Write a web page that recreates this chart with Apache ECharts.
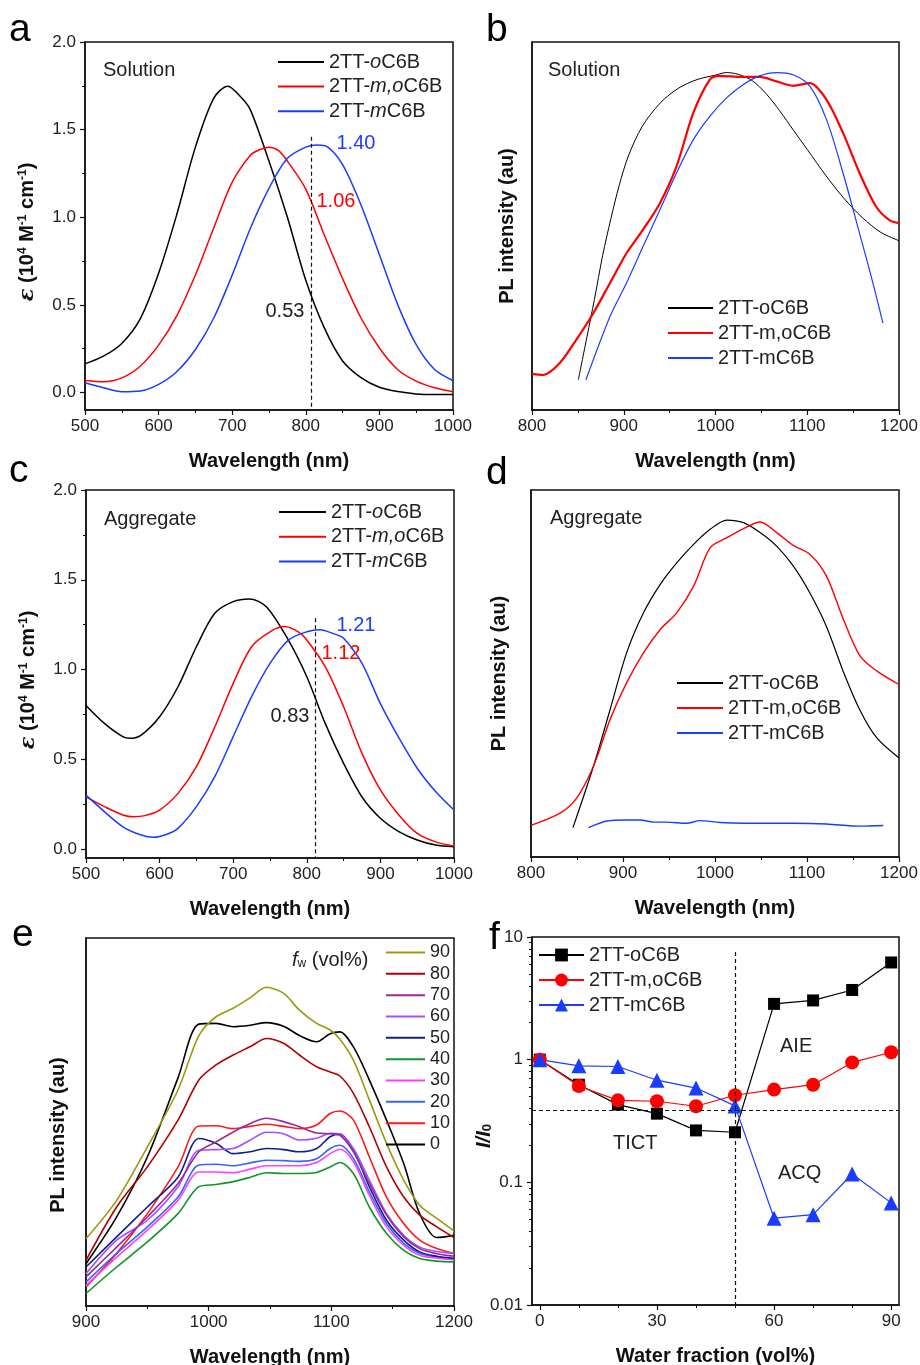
<!DOCTYPE html>
<html>
<head>
<meta charset="utf-8">
<script src="https://cdn.jsdelivr.net/npm/echarts@6.0.0/dist/echarts.min.js"></script>
<style>html,body{margin:0;padding:0;background:#fff}#chart{width:920px;height:1365px}</style>
</head>
<body>
<div id="chart"></div>
<script>
// ---------------- DATA ----------------
// Panels a & c : absorption, [wavelength nm, epsilon 10^4 M-1 cm-1]
const aO  = [[500,0.163],[525,0.207],[550,0.28],[575,0.42],[600,0.68],[625,1.02],[650,1.40],[675,1.68],[694,1.748],[713,1.68],[725,1.61],[750,1.32],[775,1.00],[800,0.64],[825,0.37],[850,0.18],[875,0.085],[900,0.03],[925,0.005],[950,-0.008],[975,-0.011],[1000,-0.011]];
const aMO = [[500,0.068],[525,0.061],[550,0.083],[575,0.15],[600,0.27],[625,0.44],[650,0.67],[675,0.94],[700,1.20],[725,1.355],[737,1.385],[750,1.40],[763,1.38],[775,1.32],[800,1.16],[825,0.90],[850,0.65],[875,0.425],[900,0.254],[925,0.13],[950,0.065],[975,0.027],[1000,0.004]];
const aM  = [[500,0.055],[525,0.027],[550,0.004],[575,0.008],[600,0.046],[625,0.12],[650,0.245],[675,0.425],[700,0.67],[725,0.94],[750,1.165],[775,1.336],[800,1.40],[815,1.412],[830,1.40],[850,1.30],[875,1.07],[900,0.786],[925,0.50],[950,0.273],[975,0.131],[1000,0.068]];
const aMark = {x: 808, top: 1.46, bottom: -0.1};
const cO  = [[500,0.80],[525,0.70],[550,0.626],[560,0.617],[575,0.635],[600,0.737],[625,0.904],[650,1.127],[675,1.313],[700,1.378],[722,1.393],[745,1.35],[775,1.164],[800,0.96],[825,0.70],[850,0.477],[875,0.29],[900,0.171],[925,0.097],[950,0.05],[975,0.022],[1000,0.013]];
const cMO = [[500,0.29],[525,0.236],[550,0.19],[565,0.18],[580,0.186],[600,0.217],[625,0.31],[650,0.459],[675,0.68],[700,0.923],[725,1.127],[750,1.21],[770,1.239],[790,1.205],[800,1.164],[825,1.016],[850,0.793],[875,0.533],[900,0.329],[925,0.19],[950,0.087],[975,0.04],[1000,0.017]];
const cM  = [[500,0.30],[525,0.208],[550,0.124],[575,0.078],[592,0.065],[610,0.082],[625,0.115],[650,0.236],[675,0.403],[700,0.626],[725,0.849],[750,1.034],[775,1.164],[800,1.21],[818,1.222],[836,1.20],[850,1.174],[875,1.034],[900,0.81],[925,0.62],[950,0.45],[975,0.32],[1000,0.217]];
const cMark = {x: 811, top: 1.285, bottom: -0.05};

// Panel b : PL in solution, [wavelength, intensity au]
const bO = [[850.5,8.2],[860,20],[868,30],[877,42],[886,52],[895,61],[905,69],[920,77],[940,83.5],[960,87.5],[980,89.8],[1000,91],[1012,91.7],[1025,91.2],[1040,89.5],[1055,86],[1070,81.3],[1085,76],[1100,70.8],[1120,63.8],[1140,57.5],[1160,52.3],[1180,48.3],[1200,46]];
const bMO = [[800,9.8],[812,9.5],[830,12.7],[848,19],[866.8,26.3],[885,34.5],[903,42.6],[921,49],[939.4,56.2],[957.5,66.2],[975.7,80.7],[993.8,89.8],[1003,90.8],[1030,90.5],[1048,90.5],[1066.5,89.3],[1084.6,88.1],[1102.8,88.8],[1121,84.3],[1139,75.3],[1157,64.4],[1175,55.3],[1190,51.5],[1200,50.8]];
const bM = [[858.8,8.2],[885,25.4],[903,34.5],[921,44.4],[939.4,54.4],[957.5,64.4],[975.7,73.4],[993.8,79.8],[1012,84.8],[1030,88.4],[1048,90.8],[1066.5,91.7],[1084.6,91.1],[1102.8,88],[1121,78.9],[1139,64.4],[1157,48],[1171.6,34.5],[1182.5,23.6]];

// Panel d : PL of aggregates
const dO = [[845.6,8],[868,24.8],[886,40.2],[904,55.7],[922.4,66.6],[940.5,74.3],[958.6,80.2],[976.7,85.2],[994.8,89.3],[1013,91.8],[1031,91.1],[1049,88.4],[1067,84.7],[1085,79.3],[1103,72],[1121,62.9],[1139.5,50.5],[1157.6,40],[1175.7,32.5],[1200,27]];
const dMO = [[800,8.6],[832,12],[850,16.2],[868,24.8],[886,37.5],[904,47.5],[922.4,55.7],[940.5,62],[958.6,66.6],[976.7,73.8],[994.8,84.3],[1013,87],[1031,89.5],[1049,91.3],[1067,88.4],[1085,84.9],[1103,82.5],[1121,76.6],[1139.5,64.8],[1157.6,54.8],[1175.7,50.7],[1200,47]];
const dM = [[862.6,8],[882.5,9.8],[904,10.1],[918.5,10.1],[933,9.5],[947.5,9.5],[969,9.2],[983.7,9.9],[1005.5,9.4],[1031,9.2],[1085,9.2],[1121,9],[1157.6,8.4],[1183,8.6]];

// Panel e : PL vs water fraction (fw, vol%)
const waveE = [900,925,950,975,992,1006,1020,1034,1047,1061,1074,1088,1099,1107,1118,1131,1145,1159,1172,1186,1200];
const eFractions = ['90','80','70','60','50','40','30','20','10','0'];
const e90 = [18.3,28.7,43.2,58.7,73.5,78.6,80.9,83.8,86.6,85,80.4,76.8,75,72.5,66.8,56,44.2,34.2,27.4,23.8,20.4];
const e80 = [12.4,26.9,37.8,50.5,61.4,65.5,68.2,70.5,72.7,71.4,68.2,65,63.6,62.5,57.8,48.7,37.8,29.6,24.7,21.5,18.6];
const e70 = [7.9,16,24.2,33.3,41.9,44.6,47.3,49.6,51,50.1,48.7,47,46.8,46.4,41.9,33.3,24.7,18.8,15.6,14.2,13.5];
const e60 = [8.8,17.9,23.3,32.4,42.3,42.5,42.8,45.1,47.2,46.8,45.1,45.6,46.9,46.7,42.8,34.2,25.1,19.2,16,14.8,14.3];
const e50 = [10.6,18.8,26.9,35,45.5,44.2,41.4,41.9,42.8,42.5,41.9,42.8,46,46.7,42.3,32.4,23.3,17.9,14.7,13.5,12.9];
const e40 = [3.4,10.6,17.4,25.1,32.4,33,33.8,35,36.2,36,36,36.3,37.8,39,36,26.9,19.7,15.1,12.9,12.2,12];
const e30 = [5.6,13.3,20.6,28.7,36.4,36.4,36.2,37.2,38.1,38.1,38.1,39,41.4,42.6,39.2,30.1,21.5,16.5,13.8,13,12.6];
const e20 = [6.5,14.3,21.5,29.6,38.3,38.5,38.1,38.9,39.6,39.5,39.3,40,42.8,43.7,40.1,31,22.4,17,14.3,13.3,12.9];
const e10 = [5.2,14.3,25.1,37.8,48.9,49,48.2,48.8,49.4,48.8,48.2,49.2,52.3,53,50.5,40.5,29.6,22.4,17.9,15.6,14.3];
const e0  = [11.5,24.2,40.5,62,76.6,76.8,75.9,76.3,77,76,73.5,71.8,74,74.5,70.4,61.4,50.5,38.7,25.1,18.6,19.2];

// Panel f : I/I0 vs water fraction
const fWater = [0,10,20,30,40,50,60,70,80,90];
const fO  = [1.0,0.625,0.43,0.363,0.265,0.256,2.85,3.04,3.70,6.2];
const fMO = [1.0,0.61,0.466,0.458,0.417,0.513,0.57,0.625,0.95,1.15];
const fM  = [1.0,0.89,0.88,0.68,0.587,0.42,0.051,0.0545,0.117,0.068];
const fTICT = 0.39;
const fSplit = 50;

// tick positions
const epsTicks = [0,0.5,1,1.5,2];
const epsMinor = [0.25,0.75,1.25,1.75];
const fXTicks = [0,30,60,90];
const fXMinor = [10,20,40,50,70,80];
const fYMinorDecades = [0.01,0.1,1];
const fYMinorMult = [2,3,4,5,6,7,8,9];

// ---------------- STYLE ----------------
const FONT = '"Liberation Sans", Arial, Helvetica, sans-serif';
const INK = '#111';
const TXT = '#222';
const C_BLACK = '#000000', C_RED = '#ff0000', C_BLUE = '#1a3cff';
const eColors = {'90':'#9a9a10','80':'#b00000','70':'#9a2a9a','60':'#a050ff','50':'#10208a','40':'#10962a','30':'#ff40ff','20':'#3366ff','10':'#ff1a1a','0':'#000000'};
const eData = {'90':e90,'80':e80,'70':e70,'60':e60,'50':e50,'40':e40,'30':e30,'20':e20,'10':e10,'0':e0};
const SMOOTH = 0.3;

const grids = [
  {left:85, top:42, width:368, height:368},
  {left:532, top:42, width:367, height:368},
  {left:86, top:490, width:368, height:368},
  {left:531, top:490, width:368, height:367},
  {left:86, top:938, width:368, height:368},
  {left:532, top:937, width:367, height:368}
].map(g => Object.assign({show:true, borderColor:INK, borderWidth:1.5, backgroundColor:'transparent', outerBoundsMode:'none', containLabel:false}, g));

const tickStyle = {color:INK, width:1.2};
const labelStyle = {show:true, color:TXT, fontSize:17, fontFamily:FONT, margin:8, formatter:v => String(v)};
const nameStyle = {fontSize:20, fontWeight:'bold', color:INK, fontFamily:FONT};

function xAxisMain(gi, min, max, extra) {
  return Object.assign({
    type:'value', gridIndex:gi, min:min, max:max, position:'bottom',
    axisLine:{show:true, onZero:false, lineStyle:{color:INK, width:1.5}},
    axisTick:{show:true, inside:false, length:5, lineStyle:tickStyle},
    axisLabel:labelStyle,
    splitLine:{show:false},
    name:'Wavelength (nm)', nameLocation:'middle', nameGap:41, nameMoveOverlap:false,
    nameTextStyle:nameStyle
  }, extra || {});
}
const minorTick = {show:true, splitNumber:2, length:3, lineStyle:{color:INK, width:1}};
function overlayAxis(gi, min, max, vals, position) {
  return {
    type:'value', gridIndex:gi, min:min, max:max, position:position,
    axisLine:{show:false, onZero:false}, axisLabel:{show:false}, splitLine:{show:false},
    axisTick:{show:true, inside:false, length:3, customValues:vals, lineStyle:{color:INK, width:1}}
  };
}
function plainY(gi, gap, extra) {
  return Object.assign({
    type:'value', gridIndex:gi, min:0, max:100, position:'left',
    axisLine:{show:true, onZero:false, lineStyle:{color:INK, width:1.5}},
    axisTick:{show:false}, axisLabel:{show:false}, splitLine:{show:false},
    name:'PL intensity (au)', nameLocation:'middle', nameRotate:90, nameGap:gap, nameMoveOverlap:false,
    nameTextStyle:nameStyle
  }, extra || {});
}
const epsName = '{e|ε} (10{s|4} M{s|-1} cm{s|-1})';
const epsRich = {
  e:{fontStyle:'italic', fontWeight:'bold', fontSize:21, fontFamily:'"DejaVu Serif", serif', color:INK},
  s:{fontSize:12, fontWeight:'bold', fontFamily:FONT, color:INK, verticalAlign:'top'}
};
function epsY(gi, min, pad) {
  return {
    type:'value', gridIndex:gi, min:min, max:2, position:'left',
    axisLine:{show:true, onZero:false, lineStyle:{color:INK, width:1.5}},
    axisTick:{show:true, inside:false, length:5, customValues:epsTicks, lineStyle:tickStyle},
    axisLabel:Object.assign({}, labelStyle, {customValues:epsTicks, margin:9, formatter:v => Number(v).toFixed(1)}),
    splitLine:{show:false},
    name:epsName, nameLocation:'middle', nameRotate:90, nameGap:47, nameMoveOverlap:false,
    nameTextStyle:Object.assign({}, nameStyle, {rich:epsRich, padding:pad})
  };
}

const fYMinor = [];
fYMinorDecades.forEach(d => fYMinorMult.forEach(m => fYMinor.push(Math.log10(d * m))));

const xAxes = [
  xAxisMain(0, 500, 1000, {interval:100, minorTick:minorTick}),
  xAxisMain(1, 800, 1200, {interval:100, minorTick:minorTick}),
  xAxisMain(2, 500, 1000, {interval:100, minorTick:minorTick}),
  xAxisMain(3, 800, 1200, {interval:100, minorTick:minorTick}),
  xAxisMain(4, 900, 1200, {interval:100, minorTick:minorTick}),
  xAxisMain(5, -2, 92, {
    name:'Water fraction (vol%)',
    axisTick:{show:true, inside:false, length:5, customValues:fXTicks, lineStyle:tickStyle},
    axisLabel:Object.assign({}, labelStyle, {customValues:fXTicks})
  }),
  overlayAxis(5, -2, 92, fXMinor, 'bottom')
];
const yAxes = [
  epsY(0, -0.1, [0, 12, 0, 0]),
  plainY(1, 15),
  epsY(2, -0.05, [0, 12, 0, 0]),
  plainY(3, 22),
  plainY(4, 18, {nameTextStyle:Object.assign({}, nameStyle, {padding:[0, 26, 0, 0]})}),
  {
    type:'log', logBase:10, gridIndex:5, min:0.01, max:10, position:'left',
    axisLine:{show:true, onZero:false, lineStyle:{color:INK, width:1.5}},
    axisTick:{show:true, inside:false, length:5, lineStyle:tickStyle},
    axisLabel:Object.assign({}, labelStyle, {margin:9, formatter:v => String(+Number(v).toPrecision(3))}),
    splitLine:{show:false},
    name:'{i|I/I}{sub|0}', nameLocation:'middle', nameRotate:90, nameGap:38, nameMoveOverlap:false,
    nameTextStyle:Object.assign({}, nameStyle, {padding:[0, 30, 0, 0], rich:{
      i:{fontStyle:'italic', fontWeight:'bold', fontSize:20, fontFamily:FONT, color:INK},
      sub:{fontWeight:'bold', fontSize:13, fontFamily:FONT, color:INK, verticalAlign:'bottom'}
    }})
  },
  overlayAxis(0, -0.1, 2, epsMinor, 'left'),
  overlayAxis(2, -0.05, 2, epsMinor, 'left'),
  overlayAxis(5, -2, 1, fYMinor, 'left')
];

const dashStyle = {type:[4,3], color:INK, width:1.2};
function vMark(m) {
  return {silent:true, symbol:'none', animation:false, label:{show:false}, lineStyle:dashStyle,
    data:[[{coord:[m.x, m.top]}, {coord:[m.x, m.bottom]}]]};
}
function curve(name, gi, data, color, width, extra) {
  return Object.assign({
    type:'line', name:name, xAxisIndex:gi, yAxisIndex:gi, data:data,
    smooth:SMOOTH, symbol:'none', showSymbol:false, lineStyle:{color:color, width:width}, itemStyle:{color:color},
    emphasis:{disabled:true}, z:3
  }, extra || {});
}
const zipE = arr => waveE.map((w, i) => [w, arr[i]]);
const zipF = arr => fWater.map((w, i) => [w, arr[i]]);

const series = [
  curve('a:o', 0, aO, C_BLACK, 1.5, {markLine:vMark(aMark)}),
  curve('a:mo', 0, aMO, C_RED, 1.5),
  curve('a:m', 0, aM, C_BLUE, 1.5),
  curve('b:o', 1, bO, C_BLACK, 1),
  curve('b:mo', 1, bMO, C_RED, 2.2),
  curve('b:m', 1, bM, C_BLUE, 1.2),
  curve('c:o', 2, cO, C_BLACK, 1.5, {markLine:vMark(cMark)}),
  curve('c:mo', 2, cMO, C_RED, 1.5),
  curve('c:m', 2, cM, C_BLUE, 1.5),
  curve('d:o', 3, dO, C_BLACK, 1.2),
  curve('d:mo', 3, dMO, C_RED, 1.4),
  curve('d:m', 3, dM, C_BLUE, 1.4)
];
eFractions.slice().reverse().forEach(f => series.push(curve('e:' + f, 4, zipE(eData[f]), eColors[f], 1.6)));
function fSeries(name, data, color, symbol, size, extra) {
  return Object.assign({
    type:'line', name:name, xAxisIndex:5, yAxisIndex:5, data:zipF(data),
    symbol:symbol, symbolSize:size, showSymbol:true,
    lineStyle:{color:color, width:1.2}, itemStyle:{color:color, borderWidth:0},
    emphasis:{disabled:true}, z:4
  }, extra || {});
}
series.push(fSeries('f:o', fO, C_BLACK, 'rect', 12, {markLine:{silent:true, symbol:'none', label:{show:false}, lineStyle:dashStyle,
  data:[
    [{coord:[-2, fTICT]}, {coord:[92, fTICT]}],
    [{coord:[fSplit, 7.55]}, {coord:[fSplit, 0.01]}]
  ]}}));
series.push(fSeries('f:mo', fMO, C_RED, 'circle', 14));
series.push(fSeries('f:m', fM, C_BLUE, 'triangle', 15));

const DISPLAY = {
  'a:o':'2TT-{i|o}C6B', 'a:mo':'2TT-{i|m,o}C6B', 'a:m':'2TT-{i|m}C6B',
  'c:o':'2TT-{i|o}C6B', 'c:mo':'2TT-{i|m,o}C6B', 'c:m':'2TT-{i|m}C6B',
  'b:o':'2TT-oC6B', 'b:mo':'2TT-m,oC6B', 'b:m':'2TT-mC6B',
  'd:o':'2TT-oC6B', 'd:mo':'2TT-m,oC6B', 'd:m':'2TT-mC6B',
  'f:o':'2TT-oC6B', 'f:mo':'2TT-m,oC6B', 'f:m':'2TT-mC6B'
};
eFractions.forEach(f => DISPLAY['e:' + f] = f);

function legend(names, left, top, w, size, gap, ih, lineOnly) {
  const lg = {
    data:names, left:left, top:top, orient:'vertical', padding:0,
    itemWidth:w, itemHeight:ih || 14, itemGap:gap, selectedMode:false,
    formatter:n => DISPLAY[n],
    textStyle:{fontSize:size, lineHeight:size, color:TXT, fontFamily:FONT,
      rich:{i:{fontStyle:'italic', fontSize:size, fontFamily:FONT, color:TXT}}}
  };
  if (lineOnly) lg.itemStyle = {color:'rgba(0,0,0,0)', borderWidth:0, borderColor:'rgba(0,0,0,0)'};
  return lg;
}
const legends = [
  legend(['a:o','a:mo','a:m'], 277, 52, 46, 20, 4.6, 14, true),
  legend(['b:o','b:mo','b:m'], 667, 298, 45, 20, 5, 14, true),
  legend(['c:o','c:mo','c:m'], 278, 502, 47, 20, 4.7, 14, true),
  legend(['d:o','d:mo','d:m'], 676, 673, 46, 20, 5, 14, true),
  legend(eFractions.map(f => 'e:' + f), 385, 943.5, 39, 18, 3.33, 12, true),
  legend(['f:o','f:mo','f:m'], 538, 945, 45, 20, 5, 16, false)
];

function txt(t, x, y, size, color, extra) {
  return {type:'text', x:x, y:y, silent:true, z:10,
    style:Object.assign({text:t, fontSize:size, fontFamily:FONT, fill:color || TXT, align:'left', verticalAlign:'middle'}, extra || {})};
}
const graphics = [
  txt('a', 9, 30, 39, '#000'), txt('b', 486, 30, 39, '#000'),
  txt('c', 9, 471.5, 39, '#000'), txt('d', 486, 473, 39, '#000'),
  txt('e', 12, 935, 39, '#000'), txt('f', 489, 938, 39, '#000'),
  txt('Solution', 103, 70, 20), txt('Solution', 548, 70.5, 20),
  txt('Aggregate', 104, 519, 20), txt('Aggregate', 550, 518, 20),
  txt('1.40', 336.5, 143.5, 20, C_BLUE), txt('1.06', 316.5, 201.5, 20, C_RED), txt('0.53', 265.5, 311.5, 20, '#222'),
  txt('1.21', 336.5, 625, 20, C_BLUE), txt('1.12', 321.5, 653, 20, C_RED), txt('0.83', 270.5, 716.5, 20, '#222'),
  txt('{f|f}{w|w} (vol%)', 292, 960, 20, TXT, {rich:{
    f:{fontStyle:'italic', fontSize:20, fontFamily:FONT, fill:TXT, color:TXT},
    w:{fontSize:12, fontFamily:FONT, fill:TXT, color:TXT, verticalAlign:'bottom'}
  }}),
  txt('AIE', 780, 1046.5, 20), txt('TICT', 613, 1143, 20), txt('ACQ', 778, 1173, 20)
];

const chart = echarts.init(document.getElementById('chart'), null, {renderer:'canvas'});
chart.setOption({
  animation:false,
  backgroundColor:'#ffffff',
  textStyle:{fontFamily:FONT},
  grid:grids,
  xAxis:xAxes,
  yAxis:yAxes,
  legend:legends,
  series:series,
  graphic:graphics
});
</script>
</body>
</html>
